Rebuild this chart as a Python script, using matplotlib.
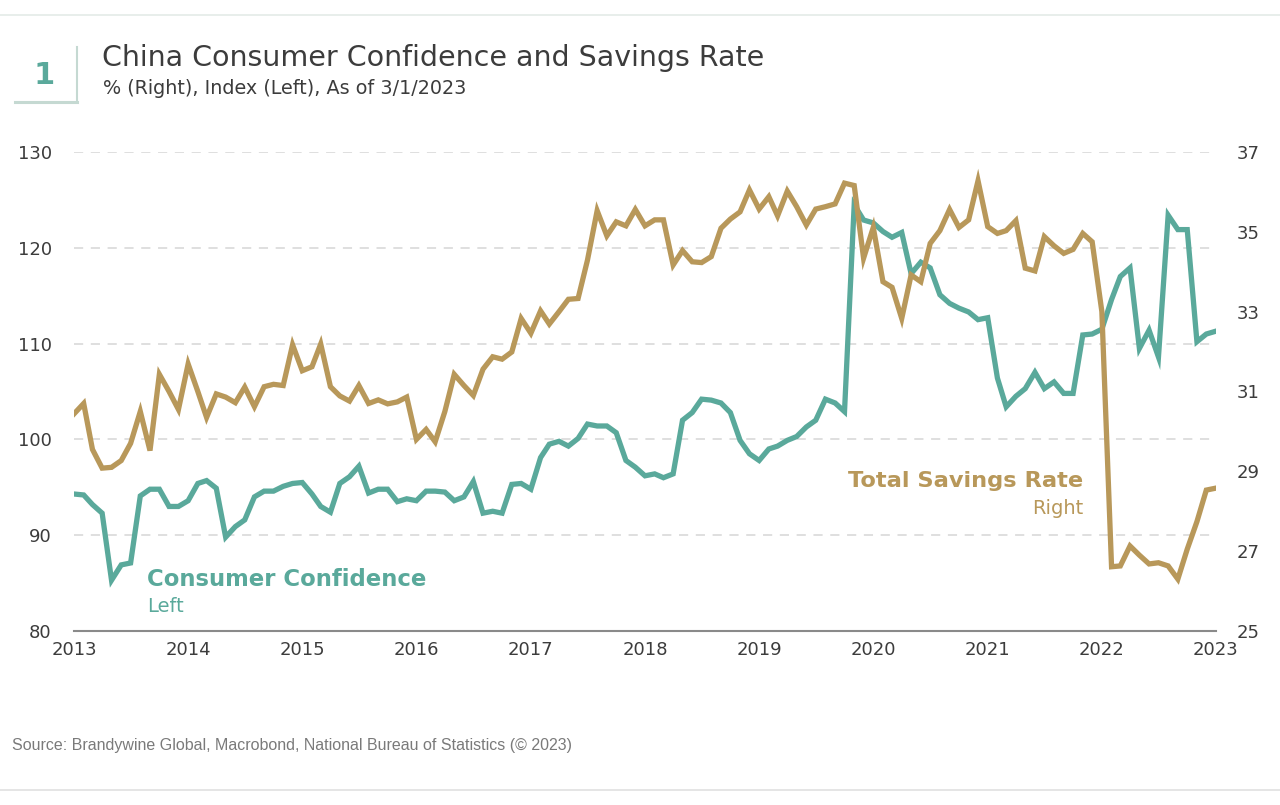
import pandas as pd
import matplotlib.pyplot as plt
import matplotlib.dates as mdates
from matplotlib.lines import Line2D

# monthly data, Jan 2013 .. Jan 2023
fechas = pd.date_range("2013-01-01", periods=121, freq="MS")

confianza = [
    94.3, 94.2, 93.2, 92.3, 85.3, 86.9, 87.1, 94.1, 94.8, 94.8, 93.0, 93.0,
    93.6, 95.4, 95.7, 94.9, 89.8, 90.9, 91.6, 94.0, 94.6, 94.6, 95.1, 95.4,
    95.5, 94.3, 93.0, 92.4, 95.4, 96.1, 97.2, 94.4, 94.8, 94.8, 93.5, 93.8,
    93.6, 94.6, 94.6, 94.5, 93.6, 94.0, 95.6, 92.3, 92.5, 92.3, 95.3, 95.4,
    94.8, 98.1, 99.5, 99.8, 99.3, 100.1, 101.6, 101.4, 101.4, 100.7, 97.8, 97.1,
    96.2, 96.4, 96.0, 96.4, 102.0, 102.8, 104.2, 104.1, 103.8, 102.8, 99.9, 98.5,
    97.8, 99.0, 99.3, 99.9, 100.3, 101.3, 102.0, 104.2, 103.8, 102.9, 124.5, 122.9,
    122.6, 121.7, 121.1, 121.6, 117.3, 118.5, 117.9, 115.1, 114.2, 113.7, 113.3, 112.5,
    112.7, 106.4, 103.4, 104.5, 105.3, 107.0, 105.3, 106.0, 104.8, 104.8, 110.9, 111.0,
    111.5, 114.6, 117.0, 117.9, 109.5, 111.4, 108.6, 123.4, 121.9, 121.9, 110.2, 111.0,
    111.3,
]

ahorro = [
    30.44, 30.70, 29.55, 29.08, 29.10, 29.27, 29.70, 30.50, 29.52, 31.43, 31.00, 30.55,
    31.69, 31.00, 30.35, 30.94, 30.86, 30.72, 31.11, 30.62, 31.12, 31.18, 31.15, 32.17,
    31.52, 31.62, 32.19, 31.12, 30.89, 30.76, 31.15, 30.70, 30.79, 30.69, 30.74, 30.86,
    29.80, 30.05, 29.74, 30.50, 31.43, 31.15, 30.90, 31.56, 31.87, 31.81, 31.99, 32.83,
    32.46, 33.02, 32.69, 33.00, 33.31, 33.33, 34.29, 35.53, 34.90, 35.25, 35.15, 35.56,
    35.15, 35.30, 35.30, 34.17, 34.53, 34.25, 34.23, 34.38, 35.09, 35.32, 35.50, 36.05,
    35.57, 35.88, 35.40, 36.02, 35.63, 35.17, 35.57, 35.63, 35.70, 36.22, 36.16, 34.34,
    35.11, 33.75, 33.61, 32.83, 33.92, 33.75, 34.71, 35.03, 35.56, 35.11, 35.30, 36.28,
    35.13, 34.96, 35.03, 35.28, 34.09, 34.02, 34.88, 34.65, 34.46, 34.56, 34.96, 34.75,
    33.00, 26.61, 26.63, 27.13, 26.90, 26.68, 26.71, 26.63, 26.30, 27.05, 27.74, 28.53,
    28.58,
]

ticks_izq = [80, 90, 100, 110, 120, 130]
ticks_der = [25, 27, 29, 31, 33, 35, 37]

verde = "#5aa99b"
dorado = "#b8985a"
gris = "#3c3c3c"

plt.rcParams["font.family"] = ["DejaVu Sans"]

fig = plt.figure(figsize=(12.8, 8.05), dpi=100)
W, H = 1280, 805

def fx(px):
    return px / W

def fy(py):
    return 1 - py / H

ax = fig.add_axes([fx(74), fy(631), fx(1216) - fx(74), fy(152) - fy(631)])
ax2 = ax.twinx()

ax.plot(fechas, confianza, color=verde, lw=3.8, solid_joinstyle="miter")
ax2.plot(fechas, ahorro, color=dorado, lw=3.8, solid_joinstyle="miter")

ax.set_xlim(fechas[0], fechas[-1])
ax.set_ylim(80, 130)
ax2.set_ylim(25, 37)
ax.set_yticks(ticks_izq)
ax2.set_yticks(ticks_der)

ax.xaxis.set_major_locator(mdates.YearLocator())
ax.xaxis.set_major_formatter(mdates.DateFormatter("%Y"))

# grid from the left axis
for v in ticks_izq[1:]:
    ax.axhline(v, color="#d6d6d6", lw=1.1, ls=(0, (6, 5)), zorder=0)

for a in (ax, ax2):
    for s in a.spines.values():
        s.set_visible(False)
    a.tick_params(length=0, labelsize=13, colors=gris)
ax.spines["bottom"].set_visible(True)
ax.spines["bottom"].set_color("#8a8a8a")
ax.spines["bottom"].set_linewidth(1.5)
ax.tick_params(axis="y", pad=16)
ax2.tick_params(axis="y", pad=15)
ax.tick_params(axis="x", pad=7)

# titles
fig.text(fx(102), fy(58), "China Consumer Confidence and Savings Rate",
         fontsize=20.5, color=gris, va="center", ha="left")
fig.text(fx(103), fy(89), "% (Right), Index (Left), As of 3/1/2023",
         fontsize=13.8, color=gris, va="center", ha="left")
fig.text(fx(44), fy(75), "1", fontsize=22, color=verde, va="center", ha="center",
         fontweight="semibold")
fig.add_artist(Line2D([fx(77), fx(77)], [fy(47), fy(102)], color="#c5d9d2", lw=1.5))
fig.add_artist(Line2D([fx(15), fx(77)], [fy(102), fy(102)], color="#c5d9d2", lw=2.2))
fig.add_artist(Line2D([0, 1], [fy(15), fy(15)], color="#e4ebe8", lw=1.2))
fig.add_artist(Line2D([0, 1], [fy(790), fy(790)], color="#e0e0e0", lw=1.2))

# series labels
fig.text(fx(147), fy(579), "Consumer Confidence", fontsize=16.4, color=verde,
         fontweight="bold", va="center", ha="left")
fig.text(fx(147), fy(606), "Left", fontsize=14, color=verde, va="center", ha="left")
fig.text(fx(1083), fy(481), "Total Savings Rate", fontsize=16.2, color=dorado,
         fontweight="bold", va="center", ha="right")
fig.text(fx(1083), fy(509), "Right", fontsize=14, color=dorado, va="center", ha="right")

fig.text(fx(12), fy(745), "Source: Brandywine Global, Macrobond, National Bureau of Statistics (\u00a9 2023)",
         fontsize=11.5, color="#7a7a7a", va="center", ha="left",
         family=["Liberation Sans", "DejaVu Sans"])

fig.savefig("out.png", dpi=100)
